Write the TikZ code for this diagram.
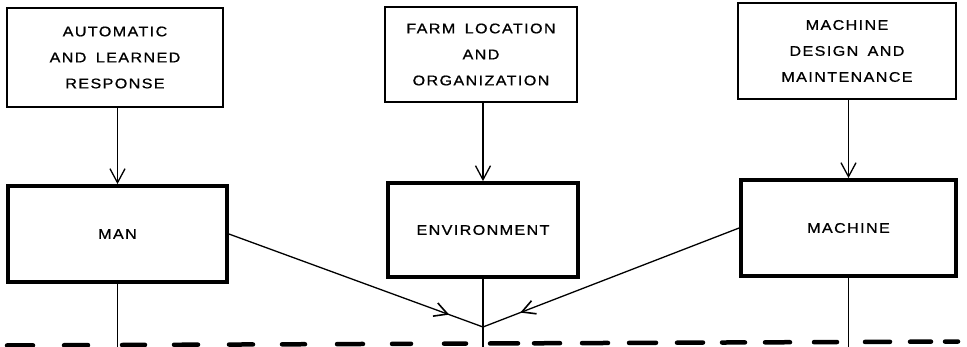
\documentclass[tikz,border=0pt]{standalone}
\usepackage{fontspec}
\setmainfont{Liberation Sans}[LetterSpace=10, WordSpace=1.6, FakeBold=0.8, FakeStretch=1.15]
\usetikzlibrary{arrows.meta,decorations.markings}
\tikzset{
  lbl/.style={font=\fontsize{14}{26}\selectfont, align=center, inner sep=0pt},
  topbox/.style={lbl, draw, line width=1.8pt},
  midbox/.style={lbl, draw, line width=3.8pt},
  conn/.style={line width=1.3pt},
  vhead/.style={arrows={-Straight Barb[length=14pt,width=15pt]}},
  midarrow/.style={postaction={decorate}, decoration={markings,
      mark=at position -#1 with {\arrow[line width=1.6pt]{Straight Barb[length=13pt,width=14pt]}}}},
  dashseg/.style={line width=4.5pt, line cap=round}
}
\begin{document}
\begin{tikzpicture}[x=1pt,y=-1pt]
\useasboundingbox (0,0) rectangle (967,347);

\node[topbox, minimum width=216pt, minimum height=99pt] (t1) at (115,57.5) {AUTOMATIC\\AND LEARNED\\RESPONSE};
\node[topbox, minimum width=192pt, minimum height=95pt] (t2) at (481,54.5) {FARM LOCATION\\AND\\ORGANIZATION};
\node[topbox, minimum width=218pt, minimum height=96pt] (t3) at (847,51) {MACHINE\\DESIGN AND\\MAINTENANCE};

\node[midbox, minimum width=219pt, minimum height=96pt] (m1) at (117.5,234) {MAN};
\node[midbox, minimum width=190pt, minimum height=94pt] (m2) at (483,230) {ENVIRONMENT};
\node[midbox, minimum width=215pt, minimum height=96pt] (m3) at (848.5,228) {MACHINE};

\coordinate (J) at (483,327);
\coordinate (bot) at (0,347);

\draw[conn, vhead] (t1.south -| m1.north) -- (m1.north);
\draw[conn, vhead] (t2.south -| m2.north) -- (m2.north);
\draw[conn, vhead] (t3.south -| m3.north) -- (m3.north);

\draw[conn] (m1.south) -- (m1.south |- bot);
\draw[conn] (m2.south) -- (m2.south |- bot);
\draw[conn] (m3.south) -- (m3.south |- bot);

\draw[conn, midarrow=36pt] (m1.east) -- (J);
\draw[conn, midarrow=40pt] (m3.west) -- (J);

\foreach \a/\b in {5/35, 62/90, 120/147, 172/200, 227/255, 280/307, 335/365, 390/413,
  442/468, 488/520, 532/562, 580/610, 627/658, 675/705, 720/747, 763/792, 812/839,
  863/892, 908/933, 943/960}
  \draw[dashseg] ({\a+2},{345.5-4*\a/967}) -- ({\b-2},{345.5-4*\b/967});
\end{tikzpicture}
\end{document}
